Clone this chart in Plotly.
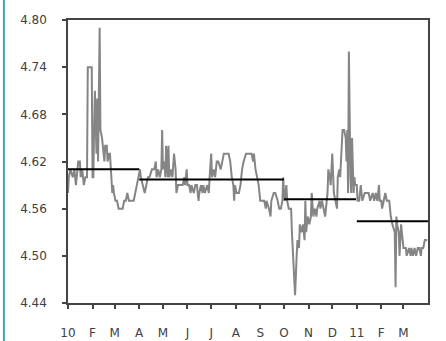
import pandas as pd
import plotly.graph_objects as go

# ---- data ----
start_date = "2010-01-01"
day_offsets = [0, 1, 3, 6, 8, 10, 12, 13, 15, 16, 18, 20, 22, 24, 25, 30, 31, 32, 33, 34, 36, 37, 38, 40,
               41, 43, 45, 46, 47, 49, 50, 52, 53, 55, 56, 57, 58, 60, 62, 64, 66, 69, 71, 73, 75, 77, 80,
               83, 85, 87, 89, 91, 92, 95, 97, 99, 101, 103, 106, 109, 111, 112, 114, 116, 118, 119, 120,
               122, 123, 124, 126, 127, 128, 130, 132, 134, 136, 137, 139, 142, 145, 147, 148, 150, 151,
               153, 155, 156, 159, 161, 163, 165, 166, 168, 170, 171, 173, 176, 178, 179, 181, 182, 184,
               186, 188, 190, 193, 195, 197, 199, 203, 205, 207, 209, 210, 211, 213, 216, 218, 220, 222,
               225, 228, 232, 234, 235, 237, 239, 241, 243, 246, 248, 250, 251, 254, 256, 257, 260, 262,
               265, 267, 269, 271, 272, 273, 274, 276, 277, 279, 282, 283, 285, 287, 289, 290, 292, 293,
               295, 297, 299, 300, 301, 303, 305, 307, 308, 310, 312, 314, 315, 318, 319, 321, 323, 325,
               326, 328, 329, 331, 332, 334, 336, 338, 340, 341, 343, 344, 346, 347, 349, 351, 352, 353,
               354, 355, 357, 358, 359, 360, 361, 362, 363, 365, 366, 368, 370, 372, 375, 377, 380, 382,
               385, 387, 389, 391, 393, 394, 396, 397, 399, 401, 403, 406, 408, 410, 413, 414, 415, 416,
               418, 419, 420, 421, 423, 424, 427, 428, 431, 433, 434, 436, 438, 440, 442, 444, 446, 447,
               449, 451, 454]
values = [4.58, 4.60, 4.61, 4.60, 4.61, 4.59, 4.61, 4.62, 4.62, 4.60, 4.61, 4.59, 4.60, 4.60, 4.74, 4.74,
          4.60, 4.60, 4.66, 4.71, 4.63, 4.70, 4.62, 4.79,
          4.66, 4.65, 4.63, 4.62, 4.64, 4.64, 4.62, 4.63, 4.63, 4.59, 4.58, 4.59, 4.58, 4.57, 4.57, 4.56,
          4.56, 4.56, 4.57, 4.57, 4.58, 4.57, 4.57,
          4.57, 4.58, 4.59, 4.60, 4.61, 4.60, 4.59, 4.58, 4.59, 4.60, 4.60, 4.61, 4.61, 4.62, 4.60, 4.61,
          4.60, 4.61, 4.66, 4.61,
          4.62, 4.60, 4.64, 4.60, 4.64, 4.60, 4.61, 4.60, 4.63, 4.61, 4.58, 4.59, 4.59, 4.59, 4.60, 4.59,
          4.61, 4.59,
          4.59, 4.58, 4.59, 4.58, 4.59, 4.59, 4.57, 4.58, 4.59, 4.58, 4.59, 4.58, 4.59, 4.58, 4.60, 4.63,
          4.60, 4.61,
          4.60, 4.62, 4.62, 4.61, 4.62, 4.63, 4.63, 4.63, 4.62, 4.60, 4.59, 4.57, 4.59, 4.58, 4.58, 4.59,
          4.61, 4.62,
          4.63, 4.63, 4.63, 4.62, 4.63, 4.61, 4.60, 4.59, 4.57, 4.57, 4.57, 4.56, 4.57, 4.56, 4.55, 4.57,
          4.58, 4.58,
          4.57, 4.56, 4.56, 4.57, 4.60, 4.58, 4.57, 4.59, 4.57, 4.56, 4.56, 4.53, 4.49, 4.45, 4.50, 4.52,
          4.51, 4.54,
          4.53, 4.54, 4.52, 4.57, 4.53, 4.55, 4.54, 4.55, 4.58, 4.55, 4.56, 4.55, 4.56, 4.57, 4.56, 4.57,
          4.56, 4.55,
          4.56, 4.58, 4.61, 4.60, 4.59, 4.63, 4.58, 4.57, 4.56, 4.60, 4.61, 4.60, 4.64, 4.66, 4.66, 4.65,
          4.62, 4.66,
          4.58, 4.76, 4.60, 4.58, 4.65, 4.62, 4.58, 4.60, 4.59, 4.59, 4.57, 4.57, 4.59, 4.57, 4.58, 4.58,
          4.58, 4.57,
          4.58, 4.57, 4.58, 4.57, 4.59, 4.57, 4.57, 4.56, 4.57, 4.58, 4.57, 4.57, 4.55, 4.54, 4.53, 4.46,
          4.55, 4.54,
          4.53, 4.50, 4.52, 4.54, 4.52, 4.51, 4.51, 4.50, 4.51, 4.50, 4.51, 4.50, 4.51, 4.50, 4.51, 4.51,
          4.50, 4.51,
          4.51, 4.52, 4.52]

period_start = ["2010-01-01", "2010-04-01", "2010-10-01", "2011-01-01"]
period_end = ["2010-04-01", "2010-10-01", "2010-12-31", "2011-04-01"]
period_mean = [4.610, 4.597, 4.572, 4.544]

tick_dates = ["2010-01-01", "2010-02-01", "2010-03-01", "2010-04-01", "2010-05-01", "2010-06-01",
              "2010-07-01", "2010-08-01", "2010-09-01", "2010-10-01", "2010-11-01", "2010-12-01",
              "2011-01-01", "2011-02-01", "2011-03-01"]
tick_labels = ["10", "F", "M", "A", "M", "J", "J", "A", "S", "O", "N", "D", "11", "F", "M"]
y_ticks = [4.44, 4.50, 4.56, 4.62, 4.68, 4.74, 4.80]

dates = pd.Timestamp(start_date) + pd.to_timedelta(day_offsets, unit="D")

fig = go.Figure()
fig.add_trace(go.Scatter(x=dates, y=values, mode="lines",
                         line=dict(color="#858585", width=2), hoverinfo="skip"))
for s, e, m in zip(period_start, period_end, period_mean):
    fig.add_trace(go.Scatter(x=[s, e], y=[m, m], mode="lines",
                             line=dict(color="#000000", width=2), hoverinfo="skip"))

axis_color = "#444444"
font = dict(family="DejaVu Sans", size=12, color="#404040")

fig.update_layout(
    width=446, height=341,
    margin=dict(l=68, r=18, t=20, b=38, autoexpand=False),
    paper_bgcolor="white", plot_bgcolor="white",
    showlegend=False,
    font=font,
    xaxis=dict(type="date", range=["2010-01-01", "2011-04-01"], automargin=False,
               tickvals=tick_dates, ticktext=tick_labels, tickangle=0,
               showgrid=False, zeroline=False,
               showline=True, mirror=True, linecolor=axis_color, linewidth=1.5,
               ticks="outside", ticklen=4, tickwidth=1.5, tickcolor=axis_color,
               ticklabelstandoff=14, tickfont=font),
    yaxis=dict(range=[4.44, 4.80], tickvals=y_ticks, tickformat=".2f", automargin=False,
               showgrid=False, zeroline=False,
               showline=True, mirror=True, linecolor=axis_color, linewidth=1.5,
               ticks="outside", ticklen=4, tickwidth=1.5, tickcolor=axis_color,
               ticklabelstandoff=13, tickfont=font),
    shapes=[dict(type="line", xref="paper", yref="paper",
                 x0=-0.178, x1=-0.178, y0=-0.2, y1=1.2,
                 line=dict(color="#45a6b3", width=2))],
)

fig.write_html("out.html", config={"displayModeBar": False},
               post_script="document.body.style.margin='0px';")
